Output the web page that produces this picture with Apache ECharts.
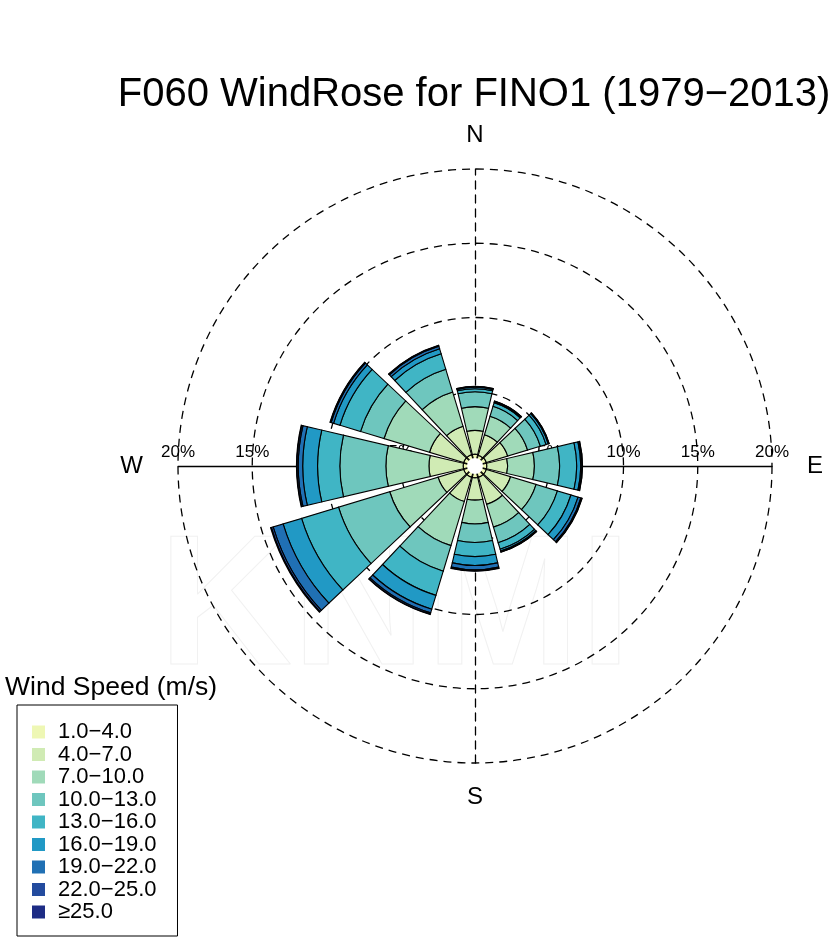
<!DOCTYPE html>
<html><head><meta charset="utf-8">
<script src="https://cdn.jsdelivr.net/npm/echarts@6/dist/echarts.min.js"></script>
<style>html,body{margin:0;padding:0;background:#fff}#c{width:830px;height:940px}</style>
</head><body><div id="c"></div>
<script>
// ---- data ----
const directions = ['N','NNE','ENE','E','ESE','SSE','S','SSW','WSW','W','WNW','NNW'];
const compassLabels = ['N','E','S','W'];
const speedClasses = ['1.0\u22124.0','4.0\u22127.0','7.0\u221210.0','10.0\u221213.0','13.0\u221216.0','16.0\u221219.0','19.0\u221222.0','22.0\u221225.0','\u226525.0'];
// frequency (%) per direction sector, one array per wind speed class
const ws1_4   = [0.8,0.75,0.8,0.8,0.8,0.8,0.8,0.8,0.8,0.8,0.8,0.8];
const ws4_7   = [1.6,1.45,1.5,1.4,1.7,1.9,1.5,1.7,1.8,2.3,2.4,2.0];
const ws7_10  = [1.6,1.3,1.4,1.8,1.8,1.6,1.6,3.1,3.4,2.9,3.2,2.4];
const ws10_13 = [1.0,0.7,0.9,1.7,1.5,1.1,1.25,1.8,3.6,3.1,1.65,1.6];
const ws13_16 = [0.2,0.25,0.4,1.15,0.95,0.45,0.95,1.7,2.6,1.5,1.45,1.1];
const ws16_19 = [0.1,0.07,0.15,0.27,0.5,0.13,0.6,0.97,1.3,1.0,0.45,0.35];
const ws19_22 = [0.03,0.03,0.05,0.08,0.2,0.05,0.28,0.26,0.7,0.3,0.17,0.17];
const ws22_25 = [0.02,0.01,0.01,0.03,0.07,0.02,0.08,0.09,0.13,0.09,0.06,0.06];
const ws25up  = [0.01,0.01,0.01,0.01,0.02,0.01,0.03,0.03,0.05,0.03,0.02,0.02];
const ringTicks = [5,10,15,20];

// ---- styles ----
const palette = ['#eef7b4','#d0ebb4','#a0dab9','#6ec6be','#40b5c5','#2199c5','#2070b4','#234b9e','#1d2c85'];
const FONT = 'Liberation Sans, Arial, Helvetica, sans-serif';
const CX = 475, CY = 466, R = 297;

const classData = [ws1_4, ws4_7, ws7_10, ws10_13, ws13_16, ws16_19, ws19_22, ws22_25, ws25up];
const rMax = ringTicks[ringTicks.length-1];

const chart = echarts.init(document.getElementById('c'), null, {renderer:'canvas'});
const series = classData.map((d,i)=>({
  name: speedClasses[i],
  type: 'bar',
  coordinateSystem: 'polar',
  polarIndex: 0,
  stack: 'rose',
  data: d,
  barCategoryGap: '12%',
  silent: true,
  animation: false,
  itemStyle: {color: palette[i], borderColor: '#000', borderWidth: 1.1}
}));

chart.setOption({
  backgroundColor: '#fff',
  animation: false,
  textStyle: {fontFamily: FONT},
  title: [
    {text: 'F060 WindRose for FINO1 (1979\u22122013)', left: 469, top: 70, textAlign: 'center',
     textStyle: {fontSize: 40, fontWeight: 'normal', color: '#000', fontFamily: FONT}},
    {text: 'Wind Speed (m/s)', left: 0, top: 669,
     textStyle: {fontSize: 26.5, fontWeight: 'normal', color: '#000', fontFamily: FONT}}
  ],
  legend: {
    orient: 'vertical', left: 17, top: 705,
    data: speedClasses,
    icon: 'rect', itemWidth: 13, itemHeight: 13, itemGap: 0.5,
    itemStyle: {borderWidth: 0},
    borderColor: '#000', borderWidth: 1,
    padding: [16, 21, 13, 15],
    selectedMode: false,
    textStyle: {fontSize: 22, lineHeight: 22, color: '#000', fontFamily: FONT, padding: [0,0,0,8]}
  },
  grid: [
    {left: CX - R, top: CY - R, width: 2*R, height: 2*R, show: false},
    {left: CX - R, top: CY, width: 2*R, height: 100, show: false}
  ],
  xAxis: [
    {gridIndex: 0, type: 'value', min: -rMax, max: rMax, interval: 5, show: false},
    {gridIndex: 1, type: 'value', min: -rMax, max: rMax, interval: 5, position: 'top',
     axisLine: {onZero: false, lineStyle: {color: '#000', width: 1.3}},
     axisTick: {show: false}, splitLine: {show: false},
     axisLabel: {show: true, margin: 5, fontSize: 17, color: '#000', fontFamily: FONT,
       showMinLabel: true, showMaxLabel: true,
       formatter: v => ringTicks.includes(Math.abs(v)) ? Math.abs(v) + '%' : ''}}
  ],
  yAxis: [
    {gridIndex: 0, type: 'value', min: -rMax, max: rMax, interval: 5,
     axisLine: {onZero: true, lineStyle: {color: '#000', width: 1.3, type: [8,6]}},
     axisTick: {show: false}, splitLine: {show: false}, axisLabel: {show: false}},
    {gridIndex: 1, type: 'value', min: 0, max: 1, show: false}
  ],
  polar: [{center: [CX, CY], radius: R}],
  angleAxis: {
    polarIndex: 0, type: 'category', data: directions, startAngle: 105, clockwise: true,
    boundaryGap: true,
    axisLine: {show: false}, axisTick: {show: false}, splitLine: {show: false},
    axisLabel: {
      show: true, margin: 22, color: '#000', fontSize: 24, fontFamily: FONT,
      formatter: v => compassLabels.includes(v) ? (v === 'E' ? '{e|E}' : v === 'W' ? '{w|W}' : v) : '',
      rich: {
        e: {fontSize: 24, color: '#000', fontFamily: FONT, padding: [0,0,0,13]},
        w: {fontSize: 24, color: '#000', fontFamily: FONT, padding: [0,13,0,0]}
      }
    }
  },
  radiusAxis: {
    polarIndex: 0, type: 'value', min: 0, max: rMax, interval: 5,
    axisLine: {show: false}, axisTick: {show: false}, axisLabel: {show: false},
    splitLine: {show: true, lineStyle: {color: '#000', width: 1.3, type: [8,6]}}
  },
  graphic: [
    {type: 'text', z: -10, silent: true, left: 158, top: 520,
     style: {text: 'KNMI', font: 'bold 185px Liberation Sans', fill: 'rgba(0,0,0,0)', stroke: '#f1f1f1', lineWidth: 1}},
    {type: 'circle', z: 100, silent: true, shape: {cx: CX, cy: CY, r: 8}, style: {fill: '#fff'}}
  ],
  series: series
});
</script></body></html>
